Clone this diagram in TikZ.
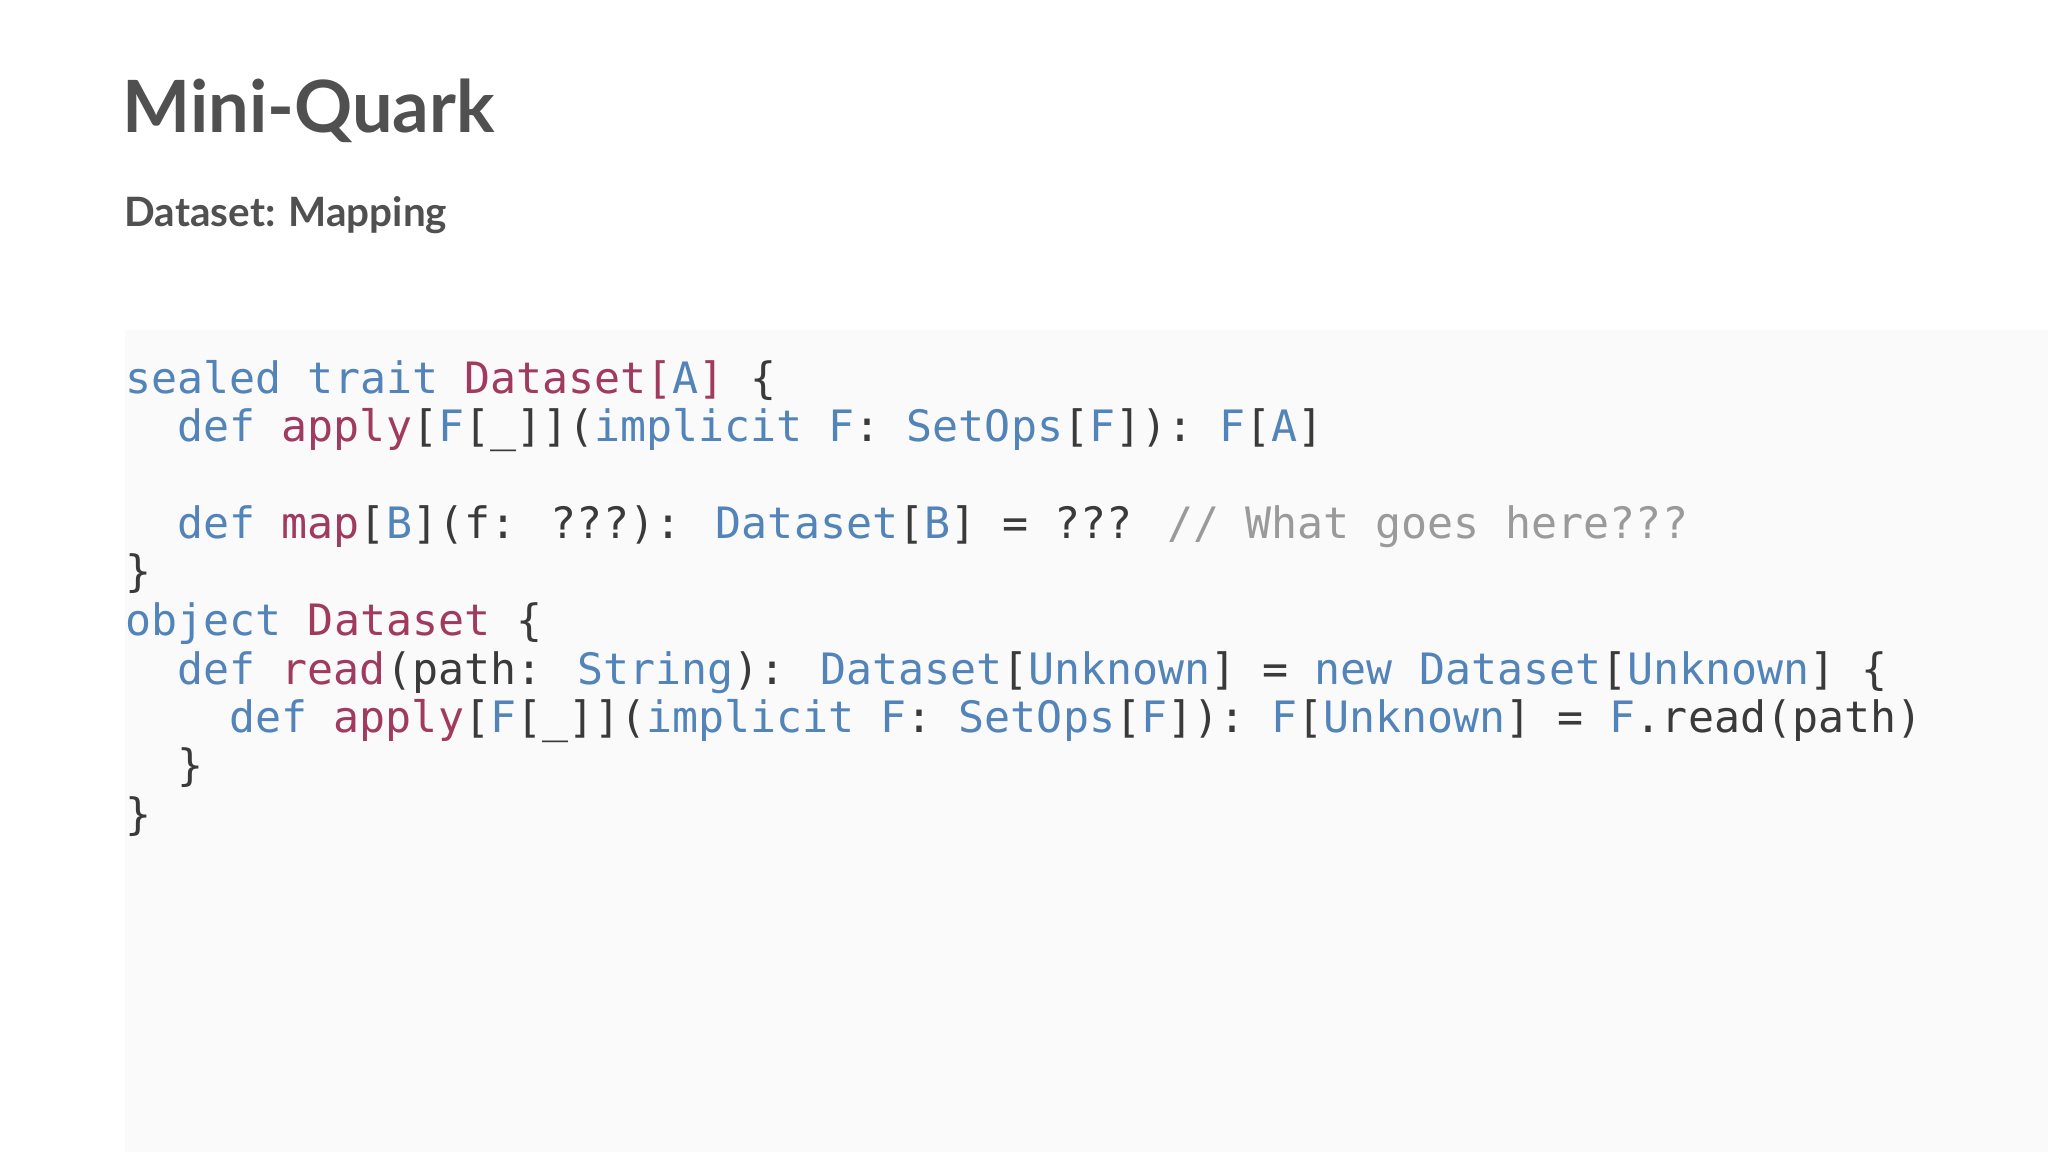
\documentclass[tikz,border=0pt]{standalone}
\usepackage{fontspec}
\setmainfont{Lato}
\newfontfamily\codefont{DejaVu Sans Mono}
\definecolor{kb}{HTML}{5283B9}
\definecolor{km}{HTML}{A03A5E}
\definecolor{kd}{HTML}{3A3A3A}
\definecolor{kc}{HTML}{9A9A9A}
\definecolor{kt}{HTML}{505050}
\newcommand{\Kb}[1]{\textcolor{kb}{#1}}
\newcommand{\Km}[1]{\textcolor{km}{#1}}
\newcommand{\Kc}[1]{\textcolor{kc}{#1}}
\tikzset{codeline/.style={anchor=base west,inner sep=0pt,text=kd,font=\codefont\fontsize{12.3pt}{14pt}\selectfont}}
\begin{document}
\begin{tikzpicture}[x=0.01cm,y=-0.01cm]
\useasboundingbox (0,0) rectangle (2048,1152);
\fill[white] (0,0) rectangle (2048,1152);
\fill[black!2] (125,330) rectangle (2048,1152);
\node[anchor=base west,inner sep=0pt,text=kt,font=\bfseries\fontsize{20.5pt}{24pt}\selectfont] (title) at (122,133) {Mini-Quark};
\node[anchor=base west,inner sep=0pt,text=kt,font=\bfseries\fontsize{11.5pt}{14pt}\selectfont] (sub) at (124,227) {Dataset: Mapping};
\node[codeline] (l1) at (125,394) {\Kb{sealed trait} \Km{Dataset[}\Kb{A}\Km{]} \{};
\node[codeline] (l2) at (177,442) {\Kb{def} \Km{apply}[\Kb{F}[\_]](\Kb{implicit F}: \Kb{SetOps}[\Kb{F}]): \Kb{F}[\Kb{A}]};
\node[codeline] (l4) at (177,539) {\Kb{def} \Km{map}[\Kb{B}](f: ???): \Kb{Dataset}[\Kb{B}] = ??? \Kc{// What goes here???}};
\node[codeline] (l5) at (125,587) {\}};
\node[codeline] (l6) at (125,636) {\Kb{object} \Km{Dataset} \{};
\node[codeline] (l7) at (177,684) {\Kb{def} \Km{read}(path: \Kb{String}): \Kb{Dataset}[\Kb{Unknown}] = \Kb{new Dataset}[\Kb{Unknown}] \{};
\node[codeline] (l8) at (229,732) {\Kb{def} \Km{apply}[\Kb{F}[\_]](\Kb{implicit F}: \Kb{SetOps}[\Kb{F}]): \Kb{F}[\Kb{Unknown}] = \Kb{F}.read(path)};
\node[codeline] (l9) at (177,780) {\}};
\node[codeline] (l10) at (125,829) {\}};
\end{tikzpicture}
\end{document}
